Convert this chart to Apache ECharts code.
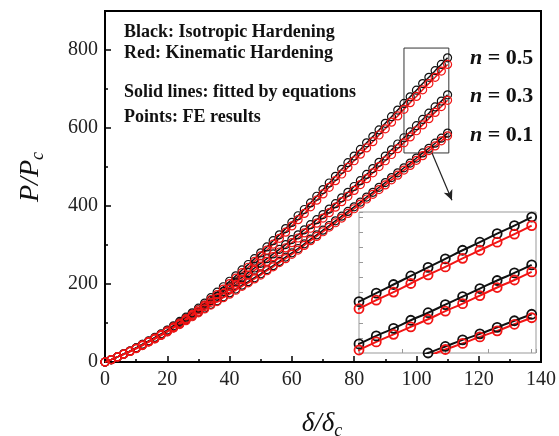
<!DOCTYPE html>
<html>
<head>
<meta charset="utf-8">
<script src="https://cdn.jsdelivr.net/npm/echarts@6/dist/echarts.min.js"></script>
<style>
html,body{margin:0;padding:0;background:#fff;}
#chart{width:559px;height:436px;}
</style>
</head>
<body>
<div id="chart"></div>
<script>
// ---- data ----
const xs = [0,2,4,6,8,10,12,14,16,18,20,22,24,26,28,30,32,34,36,38,40,42,44,46,48,50,52,54,56,58,60,62,64,66,68,70,72,74,76,78,80,82,84,86,88,90,92,94,96,98,100,102,104,106,108,110];

const iso05 = [0,6,13,21,28,36,45,54,63,72,82,93,104,115,126,138,151,165,179,193,207,221,236,250,265,280,295,311,326,342,358,375,391,408,425,442,459,476,494,511,528,545,562,578,595,612,629,646,663,680,697,714,730,747,763,780];
const iso03 = [0,6,13,21,28,36,45,53,62,71,81,91,101,112,123,134,146,158,169,181,193,205,217,229,241,253,265,277,289,301,314,326,339,352,365,378,392,406,421,435,450,465,481,496,512,528,544,559,575,590,606,622,638,654,669,685];
const iso01 = [0,6,13,20,27,35,43,52,60,69,78,88,98,108,118,128,138,148,157,167,177,187,197,206,216,226,237,247,258,269,280,291,303,315,326,338,350,362,374,386,398,410,423,435,448,460,473,485,498,510,523,536,548,561,574,587];

const kin05 = [0,6,13,20,27,35,43,52,61,70,79,90,100,111,122,134,146,160,173,187,201,215,229,243,258,272,287,302,317,333,349,365,381,398,415,431,448,465,482,499,516,533,549,565,582,598,615,631,648,665,681,698,714,730,746,763];
const kin03 = [0,6,13,20,27,35,44,52,60,69,79,88,98,109,119,130,142,153,164,176,188,199,211,223,235,246,258,270,282,293,306,318,331,343,356,369,383,397,411,425,440,455,470,485,501,516,532,547,562,577,593,608,624,640,655,671];
const kin01 = [0,6,13,20,27,34,42,51,59,68,77,87,96,106,116,126,136,146,155,165,174,184,194,203,213,223,234,244,255,265,276,287,299,311,322,334,346,357,369,381,393,405,418,430,442,454,467,479,492,504,517,529,542,554,567,580];

const nLabels = ['0.5', '0.3', '0.1'];
const legendLines = ['Black: Isotropic Hardening', 'Red: Kinematic Hardening', 'Solid lines: fitted by equations', 'Points: FE results'];
const zoomBox = [96, 536, 110.4, 805];      // x0, y0, x1, y1 in data units
const arrowFromTo = [105, 536, 111.4, 415];  // data units

// ---- build ----
const BLACK = '#111';
const RED = '#f21414';
const SERIF = '"Liberation Serif","Times New Roman",serif';

function pairs(ys){ return xs.map((x,i)=>[x, ys[i]]); }

function mainSeries(name, ys, color, extra){
  return Object.assign({
    name, type:'line', xAxisIndex:0, yAxisIndex:0, data: pairs(ys),
    smooth:true, symbol:'circle', symbolSize:8, showSymbol:true,
    lineStyle:{color, width:1.5}, itemStyle:{color:'rgba(0,0,0,0)', borderColor:color, borderWidth:1.2},
    animation:false, z:3
  }, extra||{});
}
function insetSeries(name, ys, color){
  return {
    name:name+'_inset', type:'line', xAxisIndex:1, yAxisIndex:2, data: pairs(ys),
    smooth:true, symbol:'circle', symbolSize:9, showSymbol:true, clip:true,
    lineStyle:{color, width:2}, itemStyle:{color:'rgba(0,0,0,0)', borderColor:color, borderWidth:1.8},
    animation:false, z:6
  };
}

const series = [
  mainSeries('iso05', iso05, BLACK, {
    markArea:{silent:true, itemStyle:{color:'rgba(0,0,0,0)', borderColor:'#333', borderWidth:1},
      data:[[{xAxis:zoomBox[0], yAxis:zoomBox[1]},{xAxis:zoomBox[2], yAxis:zoomBox[3]}]]},
    markLine:{silent:true, symbol:['none','arrow'], symbolSize:[7,10], label:{show:false},
      lineStyle:{color:'#222', width:1.2, type:'solid'},
      data:[[{coord:[arrowFromTo[0], arrowFromTo[1]]},{coord:[arrowFromTo[2], arrowFromTo[3]]}]]}
  }),
  mainSeries('iso03', iso03, BLACK),
  mainSeries('iso01', iso01, BLACK),
  mainSeries('kin05', kin05, RED),
  mainSeries('kin03', kin03, RED),
  mainSeries('kin01', kin01, RED),
  insetSeries('iso05', iso05, BLACK),
  insetSeries('iso03', iso03, BLACK),
  insetSeries('iso01', iso01, BLACK),
  insetSeries('kin05', kin05, RED),
  insetSeries('kin03', kin03, RED),
  insetSeries('kin01', kin01, RED)
];

const graphics = [];
const legendY = [32, 53, 92, 117];
legendLines.forEach((t,i)=>{
  graphics.push({type:'text', x:124, y:legendY[i], z:10,
    style:{text:t, font:'bold 18px '+SERIF, fill:'#111', verticalAlign:'middle', align:'left'}});
});
const nY = [58, 96, 135];
nLabels.forEach((v,i)=>{
  graphics.push({type:'text', x:470, y:nY[i], z:10,
    style:{text:'{n|n}{v| = '+v+'}', verticalAlign:'middle', align:'left',
      rich:{n:{font:'italic bold 22px '+SERIF, fill:'#111'}, v:{font:'bold 22px '+SERIF, fill:'#111'}}}});
});
// axis titles
graphics.push({type:'text', x:31, y:177, rotation:Math.PI/2, z:10,
  style:{text:'{i|P/P}{s|c}', align:'center', verticalAlign:'middle',
    rich:{i:{font:'italic 28px '+SERIF, fill:'#111'}, s:{font:'italic 18px '+SERIF, fill:'#111', padding:[14,0,0,0]}}}});
graphics.push({type:'text', x:322, y:424, z:10,
  style:{text:'{i|δ/δ}{s|c}', align:'center', verticalAlign:'middle',
    rich:{i:{font:'italic 27px '+SERIF, fill:'#111'}, s:{font:'italic 18px '+SERIF, fill:'#111', padding:[14,0,0,0]}}}});

const labelStyle = {fontFamily:SERIF, fontSize:20, color:'#222'};

const option = {
  backgroundColor:'#fff',
  animation:false,
  grid:[
    {left:105, top:11, right:17, bottom:74, show:true, borderColor:'#000', borderWidth:2, backgroundColor:'transparent'},
    {left:359, top:212, width:177, height:141, show:true, borderColor:'#999', borderWidth:1, backgroundColor:'#fff', z:5}
  ],
  xAxis:[
    {type:'value', gridIndex:0, min:0, max:140, interval:20,
      axisLine:{lineStyle:{color:'#000', width:2}},
      axisTick:{inside:true, length:6, lineStyle:{color:'#000', width:1.5}},
      minorTick:{show:true, splitNumber:2, length:3, lineStyle:{color:'#000', width:1.5}},
      splitLine:{show:false}, minorSplitLine:{show:false},
      axisLabel:Object.assign({margin:8}, labelStyle)},
    {type:'value', gridIndex:1, min:90, max:110.5, interval:5, z:6,
      axisLine:{show:false}, axisTick:{inside:true, length:4, lineStyle:{color:'#999'}},
      axisLabel:{show:false}, splitLine:{show:false}}
  ],
  yAxis:[
    {type:'value', gridIndex:0, min:0, max:900, interval:200,
      axisLine:{lineStyle:{color:'#000', width:2}},
      axisTick:{inside:true, length:6, lineStyle:{color:'#000', width:1.5}},
      splitLine:{show:false},
      axisLabel:Object.assign({margin:7, showMaxLabel:false, formatter:v=> (v>800?'':String(v))}, labelStyle)},
    {type:'value', gridIndex:0, min:0, max:900, interval:100, position:'left',
      axisLine:{show:false},
      axisTick:{inside:true, length:3, lineStyle:{color:'#000', width:1.5}},
      axisLabel:{show:false}, splitLine:{show:false}},
    {type:'value', gridIndex:1, min:510, max:790, interval:30, z:6,
      axisLine:{show:false}, axisTick:{inside:true, length:4, lineStyle:{color:'#999'}},
      axisLabel:{show:false}, splitLine:{show:false}}
  ],
  series: series,
  graphic: graphics
};

const chart = echarts.init(document.getElementById('chart'), null, {renderer:'canvas'});
chart.setOption(option);
</script>
</body>
</html>
